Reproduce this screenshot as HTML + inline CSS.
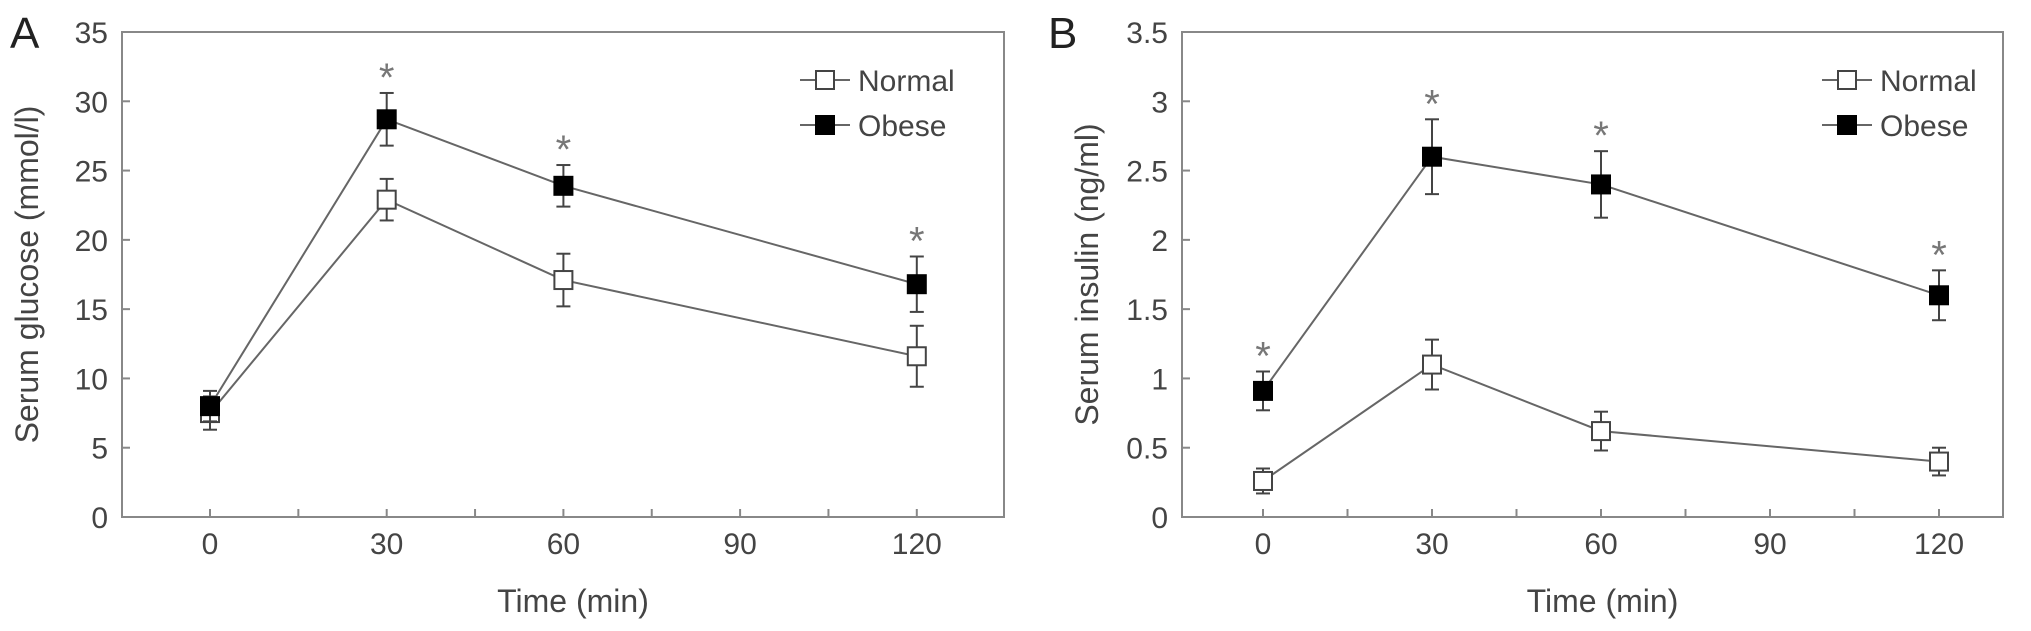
<!DOCTYPE html>
<html><head><meta charset="utf-8"><style>
html,body{margin:0;padding:0;background:#fff;}
svg{display:block;font-family:"Liberation Sans",sans-serif;}
</style></head><body>
<svg id="chart" width="2031" height="631" viewBox="0 0 2031 631"></svg>
<script>
const times = [0, 30, 60, 120];
const glucoseNormal = [7.5, 22.9, 17.1, 11.6];
const glucoseNormalErr = [1.2, 1.5, 1.9, 2.2];
const glucoseObese = [8.0, 28.7, 23.9, 16.8];
const glucoseObeseErr = [1.1, 1.9, 1.5, 2.0];
const glucoseSig = [false, true, true, true];
const insulinNormal = [0.26, 1.1, 0.62, 0.4];
const insulinNormalErr = [0.09, 0.18, 0.14, 0.1];
const insulinObese = [0.91, 2.6, 2.4, 1.6];
const insulinObeseErr = [0.14, 0.27, 0.24, 0.18];
const insulinSig = [true, true, true, true];
const xTicks = [0, 30, 60, 90, 120];
const glucoseTicks = [0, 5, 10, 15, 20, 25, 30, 35];
const insulinTicks = ["0", "0.5", "1", "1.5", "2", "2.5", "3", "3.5"];

const NS = "http://www.w3.org/2000/svg";
const svg = document.getElementById("chart");
function mk(tag, attrs, parent, text) {
  const e = document.createElementNS(NS, tag);
  for (const k in attrs) e.setAttribute(k, attrs[k]);
  if (text !== undefined) e.textContent = text;
  (parent || svg).appendChild(e);
  return e;
}
const GRAY = "#666";

function panel(cfg) {
  const g = mk("g", {});
  
  
  const xs = v => cfg.x0 + (v - 0) * cfg.dx / 30;
  const ys = v => cfg.bottom - v / cfg.ymax * (cfg.bottom - cfg.top);
  const box = mk("rect", {x: cfg.left, y: cfg.top, width: cfg.right - cfg.left, height: cfg.bottom - cfg.top, fill: "none", stroke: "#888", "stroke-width": 2}, g);
  
  
  cfg.yTicks.forEach(t => {
    const v = parseFloat(t);
    const y = ys(v);
    mk("line", {x1: cfg.left, x2: cfg.left + 8, y1: y, y2: y, stroke: "#888", "stroke-width": 2}, g);
    const tl = mk("text", {x: cfg.left - 14, y: y + 11, "text-anchor": "end", "font-size": 30, fill: "#444"}, g, String(t));
    
    
  });
  for (let v = 0; v <= 120; v += 15) {
    const x = xs(v);
    mk("line", {x1: x, x2: x, y1: cfg.bottom, y2: cfg.bottom - 8, stroke: "#888", "stroke-width": 2}, g);
  }
  xTicks.forEach(v => {
    const tl = mk("text", {x: xs(v), y: cfg.bottom + 37, "text-anchor": "middle", "font-size": 30, fill: "#444"}, g, String(v));
    
    
  });
  const xt = mk("text", {x: (cfg.left + cfg.right) / 2 + 10, y: 612, "text-anchor": "middle", "font-size": 32, fill: "#444"}, g, "Time (min)");
  
  
  const yt = mk("text", {x: 0, y: 0, "text-anchor": "middle", "font-size": 32, fill: "#444", transform: `translate(${cfg.left - 84},${(cfg.top + cfg.bottom) / 2}) rotate(-90)`}, g, cfg.ytitle);
  
  
  const pl = mk("text", {x: cfg.labelX, y: 48, "font-size": 44, fill: "#222"}, g, cfg.letter);
  
  

  function series(vals, errs, filled, name) {
    const sg = mk("g", {}, g);
    
    
    mk("polyline", {points: vals.map((v, i) => xs(times[i]) + "," + ys(v)).join(" "), fill: "none", stroke: GRAY, "stroke-width": 2}, sg);
    vals.forEach((v, i) => {
      const x = xs(times[i]);
      const y1 = ys(v + errs[i]), y2 = ys(v - errs[i]);
      mk("line", {x1: x, x2: x, y1: y1, y2: y2, stroke: "#444", "stroke-width": 2}, sg);
      mk("line", {x1: x - 7, x2: x + 7, y1: y1, y2: y1, stroke: "#444", "stroke-width": 2}, sg);
      mk("line", {x1: x - 7, x2: x + 7, y1: y2, y2: y2, stroke: "#444", "stroke-width": 2}, sg);
    });
    vals.forEach((v, i) => {
      const m = mk("rect", {x: xs(times[i]) - 9, y: ys(v) - 9, width: 18, height: 18, fill: filled ? "#000" : "#fff", stroke: filled ? "#000" : "#444", "stroke-width": 2}, sg);
      
      
    });
  }
  series(cfg.normal, cfg.normalErr, false, "series-normal");
  series(cfg.obese, cfg.obeseErr, true, "series-obese");
  cfg.sig.forEach((s, i) => {
    if (!s) return;
    const top = cfg.obese[i] + cfg.obeseErr[i];
    const a = mk("text", {x: xs(times[i]), y: ys(top) - 2, "text-anchor": "middle", "font-size": 40, fill: "#777"}, g, "*");
    
    
  });
  const lg = mk("g", {}, g);
  
  
  [["Normal", false, 80], ["Obese", true, 125]].forEach(([lab, f, y]) => {
    const lx = cfg.legendX;
    mk("line", {x1: lx, x2: lx + 50, y1: y, y2: y, stroke: GRAY, "stroke-width": 2}, lg);
    mk("rect", {x: lx + 16, y: y - 9, width: 18, height: 18, fill: f ? "#000" : "#fff", stroke: f ? "#000" : "#444", "stroke-width": 2}, lg);
    const t = mk("text", {x: lx + 58, y: y + 11, "font-size": 30, fill: "#444"}, lg, lab);
    
    
  });
}

panel({name: "panel-a-glucose", left: 122, right: 1004, top: 32, bottom: 517, x0: 210, dx: 176.7, ymax: 35,
  yTicks: glucoseTicks, ytitle: "Serum glucose (mmol/l)", letter: "A", labelX: 10, legendX: 800,
  normal: glucoseNormal, normalErr: glucoseNormalErr, obese: glucoseObese, obeseErr: glucoseObeseErr, sig: glucoseSig});
panel({name: "panel-b-insulin", left: 1182, right: 2003, top: 32, bottom: 517, x0: 1263, dx: 169, ymax: 3.5,
  yTicks: insulinTicks, ytitle: "Serum insulin (ng/ml)", letter: "B", labelX: 1048, legendX: 1822,
  normal: insulinNormal, normalErr: insulinNormalErr, obese: insulinObese, obeseErr: insulinObeseErr, sig: insulinSig});
</script>
</body></html>
